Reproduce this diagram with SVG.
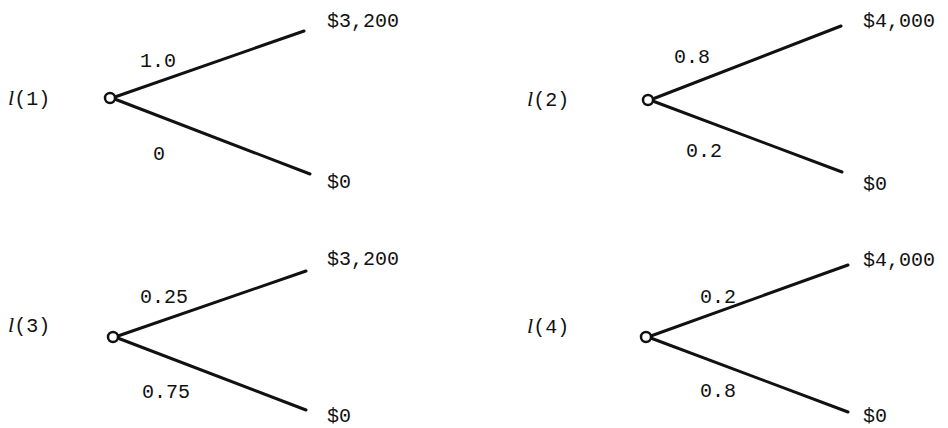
<svg xmlns="http://www.w3.org/2000/svg" width="948" height="428" viewBox="0 0 948 428">
<style>
text{font-family:"Liberation Mono","DejaVu Sans Mono",monospace;font-size:20px;fill:#111}
.it{font-family:"Liberation Serif",serif;font-style:italic;font-size:22px}
.br{stroke:#111;stroke-width:3;fill:none;stroke-linecap:round}
.nd{stroke:#111;stroke-width:2.5;fill:#fff}
</style>
<rect width="948" height="428" fill="#fff"/>
<g id="connectors">
<line class="br" x1="112" y1="98" x2="304" y2="31"/>
<line class="br" x1="112" y1="98" x2="310" y2="174"/>
<line class="br" x1="650" y1="100" x2="841" y2="26"/>
<line class="br" x1="650" y1="100" x2="842" y2="172"/>
<line class="br" x1="115" y1="337" x2="306" y2="271"/>
<line class="br" x1="115" y1="337" x2="306" y2="410"/>
<line class="br" x1="648" y1="337" x2="848" y2="265"/>
<line class="br" x1="648" y1="337" x2="848" y2="412"/>
</g>
<g id="lottery1">
<circle class="nd" cx="110" cy="98" r="5"/>
<text x="8" y="105"><tspan class="it">l</tspan>(1)</text>
<text x="140" y="67">1.0</text>
<text x="153" y="160">0</text>
<text x="327" y="27">$3,200</text>
<text x="327" y="188">$0</text>
</g>
<g id="lottery2">
<circle class="nd" cx="648" cy="100" r="5"/>
<text x="527" y="106"><tspan class="it">l</tspan>(2)</text>
<text x="674" y="63">0.8</text>
<text x="686" y="157">0.2</text>
<text x="863" y="27">$4,000</text>
<text x="863" y="190">$0</text>
</g>
<g id="lottery3">
<circle class="nd" cx="113" cy="337" r="5"/>
<text x="8" y="332"><tspan class="it">l</tspan>(3)</text>
<text x="140" y="303">0.25</text>
<text x="142" y="398">0.75</text>
<text x="327" y="265">$3,200</text>
<text x="327" y="422">$0</text>
</g>
<g id="lottery4">
<circle class="nd" cx="646" cy="337" r="5"/>
<text x="527" y="333"><tspan class="it">l</tspan>(4)</text>
<text x="700" y="303">0.2</text>
<text x="700" y="397">0.8</text>
<text x="863" y="266">$4,000</text>
<text x="863" y="422">$0</text>
</g>
</svg>
